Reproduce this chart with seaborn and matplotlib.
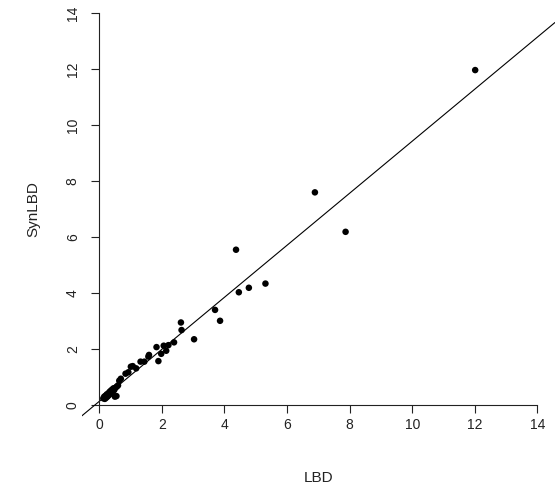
import matplotlib
matplotlib.use("Agg")
import matplotlib.pyplot as plt
import seaborn as sns
import pandas as pd

# Data
LBD = [0.13, 0.16, 0.18, 0.20, 0.22, 0.24, 0.26, 0.28, 0.29, 0.31, 0.33, 0.34,
       0.36, 0.38, 0.40, 0.42, 0.44, 0.46, 0.48, 0.50, 0.52, 0.55, 0.56, 0.60,
       0.64, 0.69, 0.84, 0.93, 1.01, 1.07, 1.18, 1.32, 1.44, 1.57, 1.59, 1.83,
       1.89, 1.98, 2.06, 2.14, 2.21, 2.39, 2.61, 2.63, 3.03, 3.70, 3.86, 4.37,
       4.46, 4.78, 5.31, 6.89, 7.87, 12.01]
SynLBD = [0.24, 0.30, 0.22, 0.33, 0.26, 0.38, 0.30, 0.40, 0.34, 0.44, 0.38, 0.48,
          0.42, 0.52, 0.46, 0.56, 0.50, 0.60, 0.54, 0.30, 0.62, 0.32, 0.66, 0.70,
          0.87, 0.94, 1.12, 1.17, 1.37, 1.39, 1.31, 1.55, 1.55, 1.73, 1.79, 2.07,
          1.57, 1.83, 2.12, 1.94, 2.14, 2.24, 2.95, 2.68, 2.35, 3.40, 3.01, 5.55,
          4.03, 4.19, 4.34, 7.60, 6.19, 11.97]
TICKS = [0, 2, 4, 6, 8, 10, 12, 14]
FIT_INTERCEPT = 0.13
FIT_SLOPE = 0.93

df = pd.DataFrame({"LBD": LBD, "SynLBD": SynLBD})

sns.set_theme(style="white")
plt.rcParams["font.family"] = ["Liberation Sans", "DejaVu Sans"]

W, H = 555, 492
fig = plt.figure(figsize=(W / 100, H / 100), dpi=100)
left_px, right_px, bottom_px, top_px = 81.7, 555.0, 420.7, -2.4
ax = fig.add_axes([left_px / W, (H - bottom_px) / H,
                   (right_px - left_px) / W, (bottom_px - top_px) / H])

sns.scatterplot(data=df, x="LBD", y="SynLBD", ax=ax, color="black",
                s=22, edgecolor="none", zorder=3, clip_on=False)
ax.axline((0, FIT_INTERCEPT), slope=FIT_SLOPE, color="black", lw=0.8)

ax.set_xlim(-0.56, 14.56)
ax.set_ylim(-0.56, 14.56)

for s in ["top", "right"]:
    ax.spines[s].set_visible(False)
for s in ["left", "bottom"]:
    ax.spines[s].set_position(("data", 0))
    ax.spines[s].set_color("#222222")
    ax.spines[s].set_linewidth(0.8)
ax.spines["left"].set_bounds(0, 14)
ax.spines["bottom"].set_bounds(0, 14)

ax.set_xticks(TICKS)
ax.set_yticks(TICKS)
ax.set_xticklabels([str(t) for t in TICKS])
ax.set_yticklabels([str(t) for t in TICKS], rotation=90, va="center")
ax.tick_params(axis="both", direction="out", length=6, width=0.8,
               color="#222222", labelsize=10, labelcolor="#222222")
ax.tick_params(axis="x", pad=3)
ax.tick_params(axis="y", pad=8)
ax.tick_params(bottom=True, left=True)

ax.set_xlabel("LBD", fontsize=11, color="#222222")
ax.set_ylabel("SynLBD", fontsize=11, color="#222222")
ax.xaxis.set_label_coords(0.5, (bottom_px - 478) / (bottom_px - top_px))
ax.xaxis.label.set_va("center")
ax.yaxis.set_label_coords((33 - left_px) / (right_px - left_px), 0.5)
ax.yaxis.label.set_va("center")
ax.grid(False)

fig.savefig("out.png", dpi=100)
